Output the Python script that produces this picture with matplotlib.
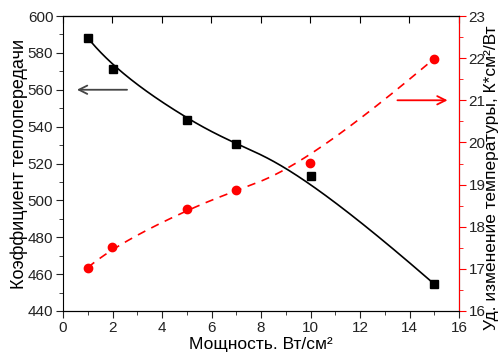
import numpy as np
import matplotlib
matplotlib.use("Agg")
import matplotlib.pyplot as plt
from matplotlib.ticker import MultipleLocator

plt.rcParams['font.family'] = ['Liberation Sans', 'DejaVu Sans']

power = [1, 2, 5, 7, 10, 15]
coef = [588.2, 571.4, 543.6, 530.5, 513.0, 454.6]
dtemp = [17.03, 17.52, 18.41, 18.86, 19.51, 21.99]


def bspline(px, py, deg=3, n=400):
    """Clamped uniform B-spline using the data points as control points."""
    m = len(px)
    knots = np.concatenate([[0.0] * deg, np.linspace(0, 1, m - deg + 1), [1.0] * deg])
    t = np.linspace(0, 1, n)
    t[-1] -= 1e-10
    N = np.array([((knots[i] <= t) & (t < knots[i + 1])).astype(float)
                  for i in range(len(knots) - 1)])
    for p in range(1, deg + 1):
        newN = []
        for i in range(len(knots) - p - 1):
            d1 = knots[i + p] - knots[i]
            d2 = knots[i + p + 1] - knots[i + 1]
            a = (t - knots[i]) / d1 * N[i] if d1 > 0 else 0 * t
            b = (knots[i + p + 1] - t) / d2 * N[i + 1] if d2 > 0 else 0 * t
            newN.append(a + b)
        N = np.array(newN)
    return N.T @ np.asarray(px, float), N.T @ np.asarray(py, float)


fig = plt.figure(figsize=(5.03, 3.53), dpi=100)
ax = fig.add_axes([63/503, 1-311/353, (459-63)/503, (311-16)/353])
ax2 = ax.twinx()

bx, by = bspline(power, coef)
ax.plot(bx, by, color='black', lw=1.2)
ax.plot(power, coef, 's', color='black', ms=6)

rx, ry = bspline(power, dtemp)
ax2.plot(rx, ry, '--', color='red', lw=1.2, dashes=(5, 4))
ax2.plot(power, dtemp, 'o', color='red', ms=6)

ax.set_xlim(0, 16)
ax.set_ylim(440, 600)
ax2.set_ylim(16, 23)

ax.xaxis.set_major_locator(MultipleLocator(2))
ax.xaxis.set_minor_locator(MultipleLocator(1))
ax.yaxis.set_major_locator(MultipleLocator(20))
ax.yaxis.set_minor_locator(MultipleLocator(10))
ax2.yaxis.set_major_locator(MultipleLocator(1))
ax2.yaxis.set_minor_locator(MultipleLocator(0.5))

ax.tick_params(axis='both', which='both', direction='out', labelsize=11,
               colors='#222222', top=False)
ax.tick_params(which='major', length=5)
ax.tick_params(which='minor', length=3)
ax.tick_params(axis='x', pad=2)
ax.tick_params(axis='y', pad=2)
ax2.tick_params(axis='y', which='both', direction='out', colors='red',
                labelcolor='#222222', labelsize=11, pad=2)
ax2.tick_params(which='major', length=5)
ax2.tick_params(which='minor', length=3)
ax2.spines['right'].set_color('red')
ax2.spines['left'].set_visible(False)

secx = ax.secondary_xaxis('top')
secx.xaxis.set_major_locator(MultipleLocator(2))
secx.tick_params(direction='in', length=5, labeltop=False)

ax.set_xlabel('Мощность. Вт/см²', fontsize=12.5, va='baseline')
ax.xaxis.set_label_coords(0.5, -0.13)
ax.set_ylabel('Коэффициент теплопередачи', fontsize=13)
ax.yaxis.set_label_coords(-0.089, 0.5)
ax2.set_ylabel('Уд. изменение температуры, К*см²/Вт', fontsize=12.5)
ax2.yaxis.set_label_coords(1.063, 0.45)

ax.annotate('', xy=(0.45, 560), xytext=(2.7, 560),
            arrowprops=dict(arrowstyle='->', color='#444444', lw=1.3, mutation_scale=15))
ax2.annotate('', xy=(15.65, 21), xytext=(13.4, 21),
             arrowprops=dict(arrowstyle='->', color='red', lw=1.3, mutation_scale=15))

fig.savefig('out.png', dpi=100)
